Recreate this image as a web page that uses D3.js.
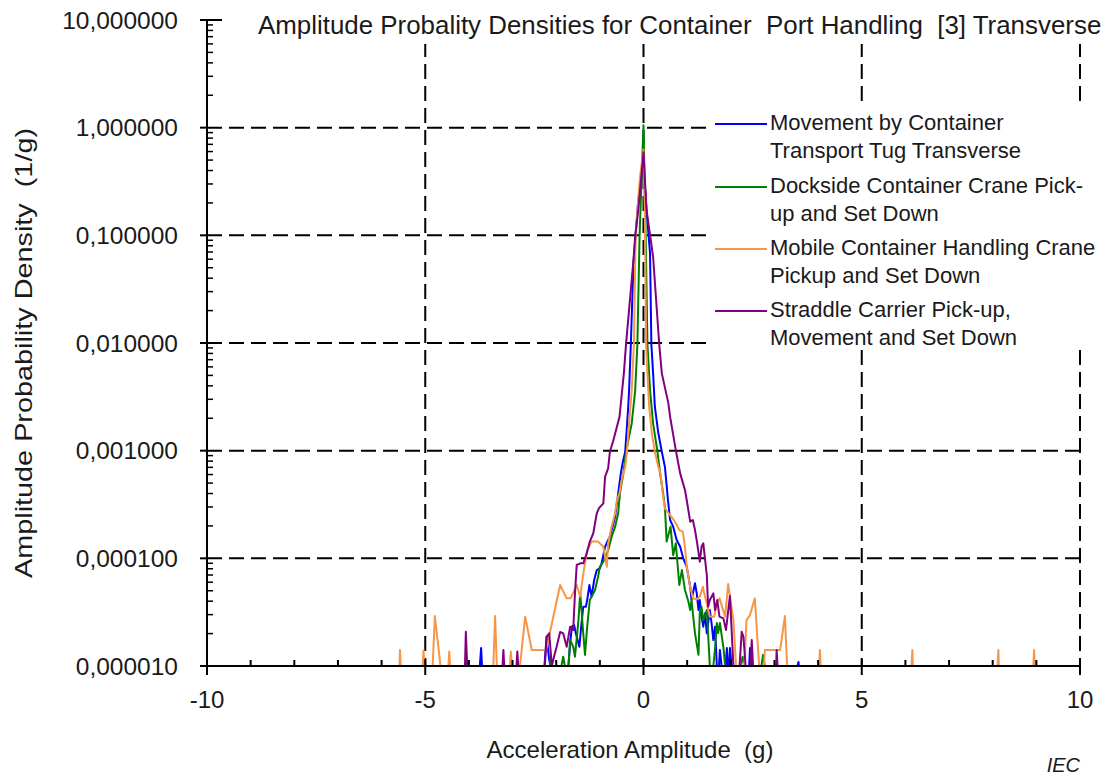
<!DOCTYPE html>
<html>
<head>
<meta charset="utf-8">
<script src="https://cdn.jsdelivr.net/npm/d3@7"></script>
<style>
  html, body { margin: 0; padding: 0; background: #fff; }
  svg { display: block; font-family: "Liberation Sans", Arial, sans-serif; }
</style>
</head>
<body>
<svg id="chart" width="1113" height="776"></svg>
<script>
// ---- Axis definitions ----
const xTicks = [-10, -5, 0, 5, 10];
const xMinorTicks = [-9, -8, -7, -6, -4, -3, -2, -1, 1, 2, 3, 4, 6, 7, 8, 9];
const yTicks = [1e-5, 1e-4, 1e-3, 1e-2, 1e-1, 1, 10];

const chartTitle = "Amplitude Probality Densities for Container  Port Handling  [3] Transverse";
const xTitle = "Acceleration Amplitude  (g)";
const yTitle = "Amplitude Probability Density  (1/g)";

const seriesNames = [
  ["Movement by Container", "Transport Tug Transverse"],
  ["Dockside Container Crane Pick-", "up and Set Down"],
  ["Mobile Container Handling Crane", "Pickup and Set Down"],
  ["Straddle Carrier Pick-up,", "Movement and Set Down"]
];
const seriesColors = ["#0000ff", "#008000", "#f79646", "#800080"];

// ---- Series data: [acceleration (g), density (1/g)]; 0 = empty bin ----
const tugTransverse = [
  [-3.75,0],[-3.72,1.47e-5],[-3.70,0],
  [-2.27,0],[-2.22,1.87e-5],[-2.16,1.14e-5],[-2.13,0],
  [-1.72,0],[-1.68,1.63e-5],[-1.64,2.32e-5],[-1.59,2.40e-5],[-1.55,2.01e-5],[-1.47,1.51e-5],
  [-1.42,2.49e-5],[-1.38,3.55e-5],[-1.32,3.55e-5],[-1.29,4.10e-5],[-1.24,5.65e-5],[-1.19,4.40e-5],
  [-1.13,6.29e-5],[-1.07,7.78e-5],[-1.00,8.07e-5],[-0.96,8.99e-5],[-0.88,1.28e-4],[-0.83,1.43e-4],
  [-0.77,1.59e-4],[-0.69,2.11e-4],[-0.65,2.43e-4],[-0.58,4.01e-4],[-0.52,6.15e-4],[-0.48,7.62e-4],
  [-0.42,9.77e-4],[-0.38,1.67e-3],[-0.35,2.56e-3],[-0.33,3.65e-3],[-0.29,9.77e-3],[-0.23,5.52e-2],
  [-0.12,0.212],[0,0.449],
  [0.07,0.171],[0.15,6.79e-2],[0.18,9.77e-3],[0.22,5.25e-3],[0.26,2.56e-3],[0.34,1.45e-3],
  [0.42,9.77e-4],[0.49,7.09e-4],[0.53,4.79e-4],[0.56,3.48e-4],[0.61,2.27e-4],[0.68,1.97e-4],
  [0.76,1.48e-4],[0.84,1.28e-4],[0.91,1.00e-4],[0.99,8.36e-5],[1.07,5.45e-5],[1.10,4.10e-5],
  [1.18,5.86e-5],[1.22,4.73e-5],[1.26,3.31e-5],[1.29,4.10e-5],[1.33,2.87e-5],[1.37,2.32e-5],
  [1.41,3.09e-5],[1.45,2.01e-5],[1.52,3.31e-5],[1.56,2.49e-5],[1.60,1.74e-5],[1.64,2.32e-5],
  [1.68,0],[1.73,0],[1.75,1.41e-5],[1.79,0],[1.88,0],[1.91,1.47e-5],[1.93,0],
  [1.96,0],[1.98,1.47e-5],[2.02,0],[2.42,0],[2.44,1.47e-5],[2.47,0],
  [3.53,0],[3.55,1.09e-5],[3.56,0]
];

const docksideCrane = [
  [-2.15,0],[-2.13,1.22e-5],[-2.10,0],[-1.88,0],[-1.84,1.22e-5],[-1.80,0],
  [-1.72,0],[-1.68,1.74e-5],[-1.61,1.51e-5],[-1.57,1.22e-5],[-1.49,2.67e-5],[-1.45,4.73e-5],
  [-1.42,3.31e-5],[-1.38,2.01e-5],[-1.34,1.27e-5],[-1.29,2.32e-5],[-1.23,4.10e-5],[-1.19,4.40e-5],
  [-1.11,5.08e-5],[-1.04,6.75e-5],[-1.00,8.36e-5],[-0.92,9.30e-5],[-0.86,1.07e-4],[-0.81,1.19e-4],
  [-0.73,1.59e-4],[-0.65,1.97e-4],[-0.58,2.62e-4],[-0.54,4.01e-4],[-0.46,6.15e-4],[-0.40,9.77e-4],
  [-0.27,1.79e-3],[-0.19,3.65e-3],[-0.14,9.77e-3],[-0.09,9.83e-2],[0,1.055],
  [0.05,9.8e-2],[0.09,9.77e-3],[0.15,3.65e-3],[0.22,1.79e-3],[0.32,9.77e-4],[0.38,6.15e-4],
  [0.45,4.01e-4],[0.49,3.01e-4],[0.53,1.43e-4],[0.62,1.97e-4],[0.68,1.07e-4],[0.74,1.38e-4],
  [0.82,5.65e-5],[0.88,7.78e-5],[0.95,5.08e-5],[1.03,3.95e-5],[1.07,3.31e-5],[1.10,4.10e-5],
  [1.18,2.01e-5],[1.26,1.27e-5],[1.29,3.19e-5],[1.33,3.55e-5],[1.37,2.67e-5],[1.45,3.31e-5],
  [1.52,0],[1.60,0],[1.64,1.47e-5],[1.68,2.51e-5],[1.71,2.02e-5],[1.75,2.51e-5],[1.83,1.50e-5],
  [1.87,0],[2.23,0],[2.27,1.22e-5],[2.33,0],[2.70,0],[2.74,1.27e-5],[2.78,0]
];

const mobileCrane = [
  [-5.59,0],[-5.58,1.41e-5],[-5.56,0],[-5.06,0],[-5.04,1.39e-5],[-5.02,0],
  [-4.83,0],[-4.78,2.91e-5],[-4.65,0],[-4.47,0],[-4.45,1.36e-5],[-4.43,0],
  [-3.44,0],[-3.40,2.91e-5],[-3.36,0],[-3.06,0],[-3.04,1.36e-5],[-3.01,0],
  [-2.83,0],[-2.71,2.87e-5],[-2.56,1.41e-5],[-2.23,1.41e-5],[-1.91,5.65e-5],[-1.76,4.25e-5],
  [-1.67,4.25e-5],[-1.53,5.65e-5],[-1.45,4.40e-5],[-1.39,6.75e-5],[-1.34,8.99e-5],[-1.29,1.19e-4],
  [-1.19,1.43e-4],[-1.04,1.43e-4],[-0.92,1.28e-4],[-0.84,8.36e-5],[-0.81,1.38e-4],[-0.73,1.97e-4],
  [-0.65,2.62e-4],[-0.61,3.48e-4],[-0.55,4.04e-4],[-0.50,5.33e-4],[-0.42,7.04e-4],[-0.38,9.70e-4],
  [-0.33,1.80e-3],[-0.27,3.65e-3],[-0.22,9.77e-3],[-0.18,9.68e-2],[-0.14,0.171],[-0.08,0.349],
  [0,0.628],
  [0.03,0.171],[0.06,9.77e-3],[0.09,5.22e-3],[0.13,2.56e-3],[0.19,1.45e-3],[0.26,9.77e-4],
  [0.34,7.09e-4],[0.39,6.15e-4],[0.45,3.73e-4],[0.49,2.91e-4],[0.61,2.52e-4],[0.72,2.19e-4],
  [0.82,1.83e-4],[0.90,1.77e-4],[0.95,1.28e-4],[0.99,8.36e-5],[1.07,5.45e-5],[1.13,4.25e-5],
  [1.22,4.16e-5],[1.29,4.40e-5],[1.36,5.45e-5],[1.39,4.73e-5],[1.45,3.82e-5],[1.52,2.87e-5],
  [1.62,2.87e-5],[1.68,3.82e-5],[1.74,4.25e-5],[1.79,3.68e-5],[1.87,2.87e-5],[1.94,5.77e-5],
  [2.06,2.67e-5],[2.12,0],[2.31,0],[2.36,2.67e-5],[2.44,2.98e-5],[2.55,4.25e-5],[2.65,0],
  [2.76,0],[2.78,1.41e-5],[3.13,1.41e-5],[3.24,2.91e-5],[3.29,0],
  [4.03,0],[4.04,1.41e-5],[4.06,0],[6.14,0],[6.16,1.41e-5],[6.17,0],
  [8.11,0],[8.13,1.41e-5],[8.14,0],[8.93,0],[8.95,1.41e-5],[8.96,0]
];

const straddleCarrier = [
  [-4.09,0],[-4.07,2.08e-5],[-4.04,0],[-3.23,0],[-3.21,1.41e-5],[-3.19,0],
  [-2.91,0],[-2.89,1.36e-5],[-2.87,0],
  [-2.26,0],[-2.22,1.87e-5],[-2.16,2.01e-5],[-2.10,0],[-2.05,1.22e-5],[-1.99,1.51e-5],
  [-1.91,2.07e-5],[-1.84,2.01e-5],[-1.76,1.51e-5],[-1.68,2.32e-5],[-1.61,2.16e-5],[-1.57,4.73e-5],
  [-1.53,8.67e-5],[-1.45,8.99e-5],[-1.38,8.99e-5],[-1.30,1.11e-4],[-1.23,1.43e-4],[-1.15,1.71e-4],
  [-1.07,2.62e-4],[-1.02,2.93e-4],[-0.92,3.24e-4],[-0.88,5.73e-4],[-0.81,6.85e-4],[-0.77,9.77e-4],
  [-0.69,1.25e-3],[-0.55,2.06e-3],[-0.45,5.22e-3],[-0.40,9.77e-3],[-0.23,5.89e-2],[-0.19,9.83e-2],
  [-0.12,0.171],[0,0.592],
  [0.07,0.171],[0.22,6.32e-2],[0.36,9.77e-3],[0.42,5.22e-3],[0.57,2.75e-3],[0.61,2.06e-3],
  [0.74,1.01e-3],[0.84,6.15e-4],[0.95,4.31e-4],[0.99,3.48e-4],[1.07,2.19e-4],[1.13,2.27e-4],
  [1.18,1.83e-4],[1.23,1.38e-4],[1.29,9.30e-5],[1.33,1.28e-4],[1.37,1.38e-4],[1.45,7.00e-5],
  [1.48,3.55e-5],[1.52,4.10e-5],[1.60,4.73e-5],[1.64,3.31e-5],[1.69,4.10e-5],[1.74,2.87e-5],
  [1.83,2.77e-5],[1.89,2.16e-5],[1.98,4.47e-5],[2.06,0],[2.20,0],[2.25,2.08e-5],[2.29,1.87e-5],
  [2.34,0],[2.45,0],[2.48,1.74e-5],[2.51,0],[3.04,0],[3.05,1.41e-5],[3.07,0]
];

const allSeries = [tugTransverse, docksideCrane, mobileCrane, straddleCarrier];

// ---- Layout ----
const svg = d3.select("#chart");
const plot = { left: 207, right: 1080, top: 20, bottom: 666 };
const textColor = "#1a1a1a";

const x = d3.scaleLinear().domain([-10, 10]).range([plot.left, plot.right]);
const y = d3.scaleLog().domain([1e-5, 10]).range([plot.bottom, plot.top]);

// ---- Grid ----
const grid = svg.append("g").attr("stroke", "#000").attr("stroke-width", 2)
  .attr("stroke-dasharray", "15,7").attr("fill", "none");
grid.selectAll("line.h").data(yTicks.filter(v => v > 1e-5)).join("line")
  .attr("class", "h")
  .attr("x1", plot.left).attr("x2", plot.right)
  .attr("y1", d => y(d)).attr("y2", d => y(d));
grid.selectAll("line.v").data(xTicks.filter(v => v > -10)).join("line")
  .attr("class", "v")
  .attr("x1", d => x(d)).attr("x2", d => x(d))
  .attr("y1", plot.top).attr("y2", plot.bottom);

// ---- Series ----
svg.append("defs").append("clipPath").attr("id", "plotClip")
  .append("rect").attr("x", plot.left).attr("y", plot.top - 2)
  .attr("width", plot.right - plot.left).attr("height", plot.bottom - plot.top + 4);

const line = d3.line()
  .x(d => x(d[0]))
  .y(d => d[1] > 0 ? y(d[1]) : y(1e-5));

svg.append("g").attr("clip-path", "url(#plotClip)")
  .selectAll("path").data(allSeries).join("path")
  .attr("d", line)
  .attr("fill", "none")
  .attr("stroke", (d, i) => seriesColors[i])
  .attr("stroke-width", 2)
  .attr("stroke-linejoin", "round");

// ---- Axes ----
const axisG = svg.append("g").attr("stroke", "#000").attr("stroke-width", 2);
axisG.append("line").attr("x1", plot.left).attr("x2", plot.left)
  .attr("y1", plot.top).attr("y2", plot.bottom);
axisG.append("line").attr("x1", plot.left).attr("x2", plot.right)
  .attr("y1", plot.bottom).attr("y2", plot.bottom);

// y major ticks (outside) and log minor ticks (inside)
axisG.selectAll("line.ym").data(yTicks).join("line")
  .attr("x1", plot.left - 7).attr("x2", plot.left)
  .attr("y1", d => y(d)).attr("y2", d => y(d));
const yMinor = [];
yTicks.slice(0, -1).forEach(t => { for (let k = 2; k <= 9; k++) yMinor.push(t * k); });
axisG.selectAll("line.yn").data(yMinor).join("line")
  .attr("stroke-width", 1.5)
  .attr("x1", plot.left).attr("x2", plot.left + 6)
  .attr("y1", d => y(d)).attr("y2", d => y(d));

// x major ticks (crossing) and minor ticks (inside)
axisG.selectAll("line.xm").data(xTicks).join("line")
  .attr("x1", d => x(d)).attr("x2", d => x(d))
  .attr("y1", plot.bottom - 7).attr("y2", plot.bottom + 9);
axisG.selectAll("line.xn").data(xMinorTicks).join("line")
  .attr("x1", d => x(d)).attr("x2", d => x(d))
  .attr("y1", plot.bottom - 6).attr("y2", plot.bottom);

// tick labels
const fmtY = v => v.toFixed(6).replace(".", ",");
svg.append("g").selectAll("text").data(yTicks).join("text")
  .attr("x", 178).attr("y", d => y(d)).attr("dy", "0.36em")
  .attr("text-anchor", "end").attr("font-size", 24.5).attr("fill", textColor)
  .text(fmtY);
svg.append("g").selectAll("text").data(xTicks).join("text")
  .attr("x", d => x(d)).attr("y", 708)
  .attr("text-anchor", "middle").attr("font-size", 24).attr("fill", textColor)
  .text(d => d);

// axis titles
svg.append("text").attr("x", 630).attr("y", 758)
  .attr("text-anchor", "middle").attr("font-size", 24).attr("fill", textColor)
  .style("white-space", "pre").text(xTitle);
svg.append("text")
  .attr("transform", "translate(32,353) rotate(-90)")
  .attr("text-anchor", "middle").attr("font-size", 24).attr("fill", textColor)
  .attr("textLength", 450).attr("lengthAdjust", "spacingAndGlyphs")
  .style("white-space", "pre").text(yTitle);
svg.append("text").attr("x", 1080).attr("y", 772)
  .attr("text-anchor", "end").attr("font-size", 20).attr("font-style", "italic")
  .attr("fill", textColor).text("IEC");

// ---- Title with its own white box ----
svg.append("rect").attr("x", 225).attr("y", 4).attr("width", 882).attr("height", 40).attr("fill", "#fff");
svg.append("text").attr("x", 258).attr("y", 34)
  .attr("font-size", 25.9).attr("fill", textColor)
  .style("white-space", "pre").text(chartTitle);

// ---- Legend ----
const legend = svg.append("g");
legend.append("rect").attr("x", 707).attr("y", 104).attr("width", 380).attr("height", 244).attr("fill", "#fff");
const legendRowY = [130, 193, 255, 317];
seriesNames.forEach((lines, i) => {
  const g = legend.append("g");
  g.append("line").attr("x1", 715).attr("x2", 767)
    .attr("y1", legendRowY[i] - 6).attr("y2", legendRowY[i] - 6)
    .attr("stroke", seriesColors[i]).attr("stroke-width", 2);
  lines.forEach((t, j) => {
    g.append("text").attr("x", 770).attr("y", legendRowY[i] + j * 28)
      .attr("font-size", 22).attr("fill", textColor).text(t);
  });
});
</script>
</body>
</html>
